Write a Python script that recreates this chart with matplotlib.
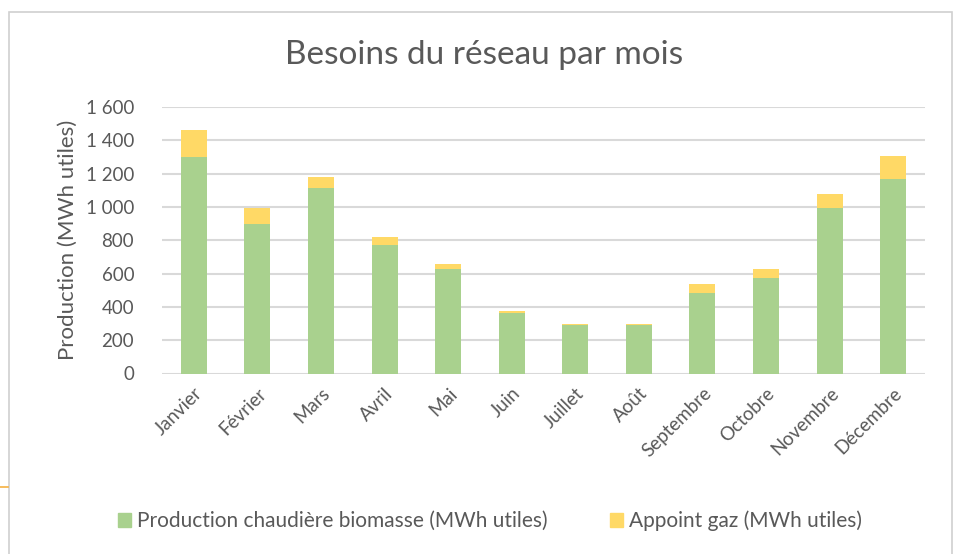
import matplotlib.pyplot as plt
from matplotlib.patches import Rectangle
from matplotlib.lines import Line2D
from matplotlib.ticker import FuncFormatter

# monthly values (MWh utiles)
mois = ["Janvier", "Février", "Mars", "Avril", "Mai", "Juin", "Juillet",
        "Août", "Septembre", "Octobre", "Novembre", "Décembre"]
biomasse = [1300, 900, 1115, 770, 628, 365, 289, 289, 485, 575, 996, 1169]
gaz = [160, 96, 66, 52, 32, 8, 8, 8, 54, 51, 81, 134]
yticks = [0, 200, 400, 600, 800, 1000, 1200, 1400, 1600]

plt.rcParams['font.family'] = ['Lato', 'DejaVu Sans']
grey = "#595959"

fig = plt.figure(figsize=(9.62, 5.54), dpi=100)
ax = fig.add_axes([162 / 962, 1 - 373.5 / 554, 763 / 962, 266.5 / 554])

x = range(len(mois))
ax.bar(x, biomasse, width=0.41, color="#A9D18E", zorder=3,
       label="Production chaudière biomasse (MWh utiles)")
ax.bar(x, gaz, width=0.41, bottom=biomasse, color="#FFD966", zorder=3,
       label="Appoint gaz (MWh utiles)")

ax.set_xlim(-0.5, len(mois) - 0.5)
ax.set_ylim(0, 1600)
ax.set_yticks(yticks)
ax.yaxis.set_major_formatter(FuncFormatter(lambda v, p: f"{int(v):,}".replace(",", " ")))
ax.grid(axis="y", color="#D9D9D9", linewidth=1.5, zorder=0)
for s in ax.spines.values():
    s.set_visible(False)
ax.tick_params(axis="both", length=0, colors=grey, labelsize=13.5)
ax.tick_params(axis="y", pad=20)
ax.set_xticks(list(x))
ax.set_xticklabels(mois, rotation=45, ha="right", rotation_mode="anchor")
ax.tick_params(axis="x", pad=8)
ax.set_ylabel("Production (MWh utiles)", color=grey, fontsize=16, labelpad=6)

fig.text(0.503, 1 - 55 / 554, "Besoins du réseau par mois", ha="center",
         va="center", fontsize=24, color=grey)

handles = [Rectangle((0, 0), 1, 1, color="#A9D18E"), Rectangle((0, 0), 1, 1, color="#FFD966")]
fig.legend(handles, ["Production chaudière biomasse (MWh utiles)", "Appoint gaz (MWh utiles)"],
           loc="center", bbox_to_anchor=(490 / 962, 1 - 521 / 554), ncol=2, frameon=False,
           fontsize=15, labelcolor=grey, handlelength=0.6, handleheight=0.6,
           handletextpad=0.3, columnspacing=3.0)

# card border and the small orange line on the left
fig.add_artist(Rectangle((9 / 962, -0.01), 943 / 962, 1 - 12 / 554 + 0.01,
                         transform=fig.transFigure, fill=False, edgecolor="#D0D0D0", linewidth=1.2))
fig.add_artist(Line2D([0, 8 / 962], [1 - 487 / 554] * 2, transform=fig.transFigure,
                      color="#F5B041", linewidth=1.2))

fig.savefig("out.png", dpi=100)
